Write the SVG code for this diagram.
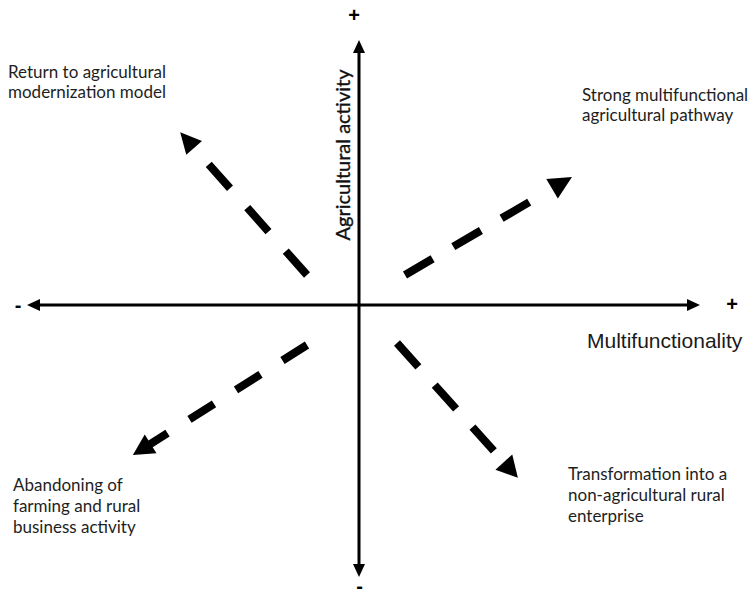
<svg xmlns="http://www.w3.org/2000/svg" width="753" height="597" viewBox="0 0 753 597">
  <style>
    .axis { stroke: #000; stroke-width: 3; fill: none; }
    .head { fill: #000; }
    .dash { stroke: #000; stroke-width: 8; fill: none; stroke-linecap: butt; }
    .label { font-family: Lato, "Open Sans", sans-serif; font-size: 17px; fill: #1e1e1e; }
    .axislabel { font-family: Lato, "Open Sans", sans-serif; font-size: 20px; fill: #111; stroke: #111; stroke-width: 0.35; }
    .sign { font-family: "Liberation Sans", Arial, sans-serif; font-size: 20px; font-weight: bold; fill: #000; text-anchor: middle; }
    .mf { font-family: "Liberation Sans", Arial, sans-serif; font-size: 21px; fill: #1a1a1a; }
  </style>
  <rect width="753" height="597" fill="#fff"/>

  <!-- axes and pathway arrows -->
  <g id="connectors">
    <!-- horizontal axis: multifunctionality -->
    <line class="axis" x1="38" y1="305" x2="689" y2="305"/>
    <polygon class="head" points="27,305 40,299 40,311"/>
    <polygon class="head" points="700,305 687,299 687,311"/>
    <!-- vertical axis: agricultural activity -->
    <line class="axis" x1="359" y1="51" x2="359" y2="566"/>
    <polygon class="head" points="359,40 353,53 365,53"/>
    <polygon class="head" points="359,577 353,564 365,564"/>

    <!-- up-left pathway -->
    <g id="arrow-ul" transform="translate(307,275) rotate(-131.6)">
      <line class="dash" x1="0" y1="0" x2="148" y2="0" stroke-dasharray="32 26"/>
      <polygon class="head" points="191,0 170,-10.5 170,10.5"/>
    </g>
    <!-- up-right pathway -->
    <g id="arrow-ur" transform="translate(405,275) rotate(-30.4)">
      <line class="dash" x1="0" y1="0" x2="144" y2="0" stroke-dasharray="32 24"/>
      <polygon class="head" points="193.6,0 170.5,-11.4 170.5,11.4"/>
    </g>
    <!-- down-right pathway -->
    <g id="arrow-lr" transform="translate(397,343) rotate(48.1)">
      <line class="dash" x1="0" y1="0" x2="145" y2="0" stroke-dasharray="32 24.5"/>
      <polygon class="head" points="181,0 160,-11.3 160,11.3"/>
    </g>
    <!-- down-left pathway -->
    <g id="arrow-ll" transform="translate(307,345) rotate(147.7)">
      <line class="dash" x1="0" y1="0" x2="186" y2="0" stroke-dasharray="29 26"/>
      <polygon class="head" points="206,0 185,-11 185,11"/>
    </g>
  </g>

  <!-- axis signs -->
  <g id="signs">
    <text class="sign" x="354" y="22">+</text>
    <text class="sign" x="732" y="311">+</text>
    <text class="sign" x="18" y="312">-</text>
    <text class="sign" x="359.5" y="593" font-size="16">-</text>
  </g>

  <!-- axis titles -->
  <g id="axis-x-title">
    <text class="mf" x="587" y="348">Multifunctionality</text>
  </g>
  <g id="axis-y-title">
    <text class="axislabel" transform="translate(350,155) rotate(-90)" text-anchor="middle">Agricultural activity</text>
  </g>

  <!-- quadrant outcomes -->
  <g id="node-modernization">
    <text class="label" x="8" y="78">Return to agricultural</text>
    <text class="label" x="8" y="98">modernization model</text>
  </g>
  <g id="node-multifunctional">
    <text class="label" x="582" y="101">Strong multifunctional</text>
    <text class="label" x="582" y="121">agricultural pathway</text>
  </g>
  <g id="node-abandoning">
    <text class="label" x="13" y="491">Abandoning of</text>
    <text class="label" x="13" y="512">farming and rural</text>
    <text class="label" x="13" y="533">business activity</text>
  </g>
  <g id="node-transformation">
    <text class="label" x="568" y="480">Transformation into a</text>
    <text class="label" x="568" y="501">non-agricultural rural</text>
    <text class="label" x="568" y="522">enterprise</text>
  </g>
</svg>
